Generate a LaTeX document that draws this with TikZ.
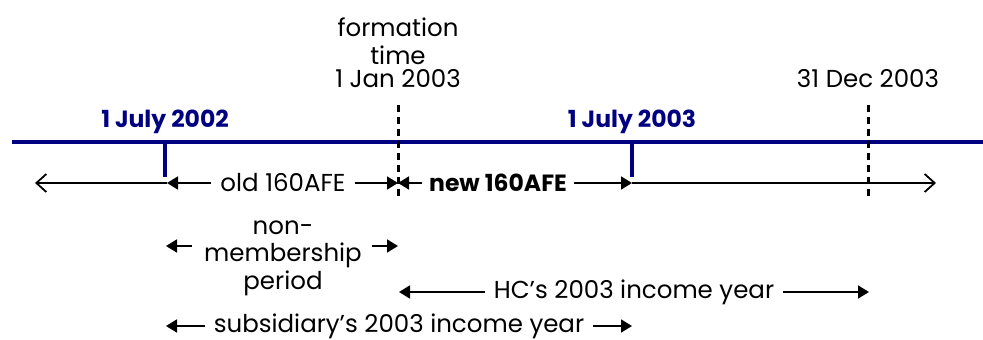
\documentclass[tikz,border=0pt]{standalone}
\usepackage{fontspec}
\setmainfont{Poppins}
\usetikzlibrary{arrows.meta}
\definecolor{navy}{RGB}{0,0,128}
\begin{document}
\begin{tikzpicture}[x=1pt,y=-1pt,
  lbl/.style={font=\fontsize{24.5}{27}\selectfont, inner sep=1pt, text=black},
  blbl/.style={lbl, font=\fontsize{23.5}{27}\selectfont\bfseries},
  datelbl/.style={blbl, text=navy},
  conn/.style={draw=black, line width=1.8pt},
  filled/.style={-{Triangle[length=11pt,width=13pt]}},
  openend/.style={-{Straight Barb[length=10pt,width=18pt,line width=1.8pt]}},
  dashline/.style={draw=black, line width=3pt, dash pattern=on 7pt off 5pt},
  navyline/.style={draw=navy, line width=4.5pt},
  gapped/.style={fill=white, inner xsep=9pt}]
\useasboundingbox (0,0) rectangle (983,340);
% main line
\coordinate (L0) at (12,142);
\coordinate (L1) at (983,142);
\draw[navyline] (L0) -- (L1);
% ticks
\coordinate (t1a) at (165,140);
\coordinate (t1b) at (165,177);
\coordinate (t2a) at (632,140);
\coordinate (t2b) at (632,177);
\draw[navyline, line cap=butt] (t1a) -- (t1b);
\draw[navyline, line cap=butt] (t2a) -- (t2b);
% dashed lines
\coordinate (d1a) at (398,105);
\coordinate (d1b) at (398,198);
\coordinate (d2a) at (868,105);
\coordinate (d2b) at (868,198);
\draw[dashline] (d1a) -- (d1b);
\draw[dashline] (d2a) -- (d2b);
% top labels
\node[datelbl] (jul02) at (165,122) {1 July 2002};
\node[datelbl] (jul03) at (632,122) {1 July 2003};
\node[lbl] (form1) at (398,27) {formation};
\node[lbl] (form2) at (398,55) {time};
\node[lbl] (form3) at (398,79) {1 Jan 2003};
\node[lbl] (dec03) at (868,79) {31 Dec 2003};
% arrow row
\coordinate (aL) at (35,183);
\coordinate (a1) at (167,183);
\coordinate (a2) at (398,183);
\coordinate (a3) at (632,183);
\coordinate (aR) at (936,183);
\node[lbl, gapped] (old) at (283,183) {old 160AFE};
\node[blbl, gapped, inner xsep=7pt] (new) at (498,183) {new 160AFE};
\draw[conn, openend] (a1) -- (aL);
\draw[conn, filled] (old) -- (a1);
\draw[conn, filled] (old) -- (a2);
\draw[conn, filled] (new) -- (a2);
\draw[conn, filled] (new) -- (a3);
\draw[conn, openend] (a3) -- (aR);
% non-membership
\node[lbl] (non1) at (283,228) {non-};
\node[lbl] (non2) at (283,255) {membership};
\node[lbl] (non3) at (283,283) {period};
\coordinate (n1s) at (192,246);
\coordinate (n1e) at (166,246);
\coordinate (n2s) at (372,246);
\coordinate (n2e) at (398,246);
\draw[conn, filled] (n1s) -- (n1e);
\draw[conn, filled] (n2s) -- (n2e);
% HC's income year
\node[lbl, gapped] (hc) at (634,292) {HC’s 2003 income year};
\coordinate (h1) at (399,292);
\coordinate (h2) at (869,292);
\draw[conn, filled] (hc) -- (h1);
\draw[conn, filled] (hc) -- (h2);
% subsidiary income year
\node[lbl, gapped] (sub) at (399,326) {subsidiary’s 2003 income year};
\coordinate (s1) at (166,326);
\coordinate (s2) at (632,326);
\draw[conn, filled] (sub) -- (s1);
\draw[conn, filled] (sub) -- (s2);
\end{tikzpicture}
\end{document}
